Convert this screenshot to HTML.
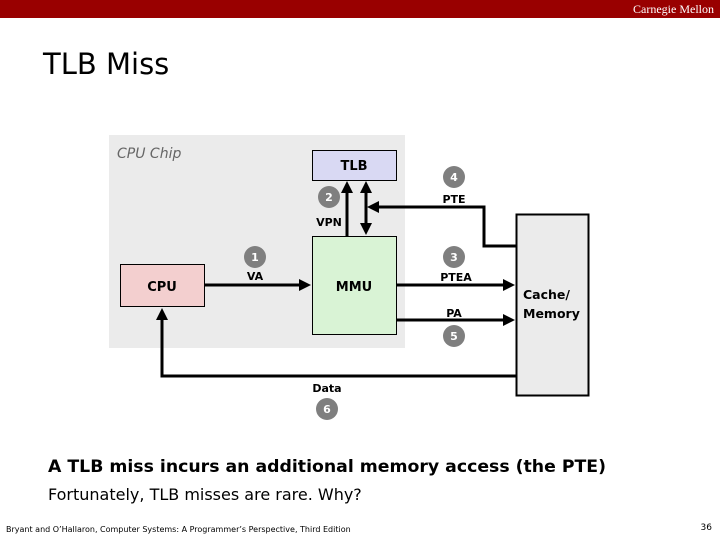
<!DOCTYPE html>
<html><head><style>
body{margin:0;width:720px;height:540px;background:#fff;position:relative;overflow:hidden;font-family:"DejaVu Sans","Liberation Sans",sans-serif}
.a{position:absolute;white-space:nowrap}
</style></head><body>
<div class="a" style="left:0;top:0;width:720px;height:18px;background:#990000"></div>
<div class="a" style="right:6px;top:2px;color:#fff;font:12px 'Liberation Serif',serif">Carnegie Mellon</div>
<div class="a" style="left:43px;top:47px;font-size:29px;color:#000">TLB Miss</div>
<svg class="a" style="left:0;top:0" width="720" height="540">
<defs><marker id="m" markerWidth="4" markerHeight="4" refX="3" refY="2" orient="auto" markerUnits="strokeWidth"><path d="M0,0L4,2L0,4z" fill="#000"/></marker></defs>
<rect x="109" y="135" width="296" height="213" fill="#ebebeb"/>
<text x="117" y="158" font-size="14" font-style="italic" fill="#666" font-family="DejaVu Sans">CPU Chip</text>
<rect x="312.5" y="150.5" width="84" height="30" fill="#d9d9f3" stroke="#000"/>
<text x="354" y="170" text-anchor="middle" font-size="13" font-weight="bold">TLB</text>
<rect x="312.5" y="236.5" width="84" height="98" fill="#d9f3d5" stroke="#000"/>
<text x="354" y="291" text-anchor="middle" font-size="13" font-weight="bold">MMU</text>
<rect x="120.5" y="264.5" width="84" height="42" fill="#f3cfcf" stroke="#000"/>
<text x="162" y="291" text-anchor="middle" font-size="13" font-weight="bold">CPU</text>
<rect x="516.5" y="214.5" width="72" height="181" fill="#ebebeb" stroke="#000" stroke-width="2"/>
<text x="523" y="299" font-size="12.5" font-weight="bold">Cache/</text>
<text x="523" y="318" font-size="12.5" font-weight="bold">Memory</text>
<g stroke="#000" stroke-width="3" fill="none">
<line x1="205" y1="285" x2="308" y2="285" marker-end="url(#m)"/>
<line x1="397" y1="285" x2="512" y2="285" marker-end="url(#m)"/>
<polyline points="397,320 512,320" marker-end="url(#m)"/>
<polyline points="516,376 162,376 162,311" marker-end="url(#m)"/>
<line x1="347" y1="236" x2="347" y2="184" marker-end="url(#m)"/>
<line x1="366" y1="196" x2="366" y2="184" marker-end="url(#m)"/>
<line x1="366" y1="190" x2="366" y2="232" marker-end="url(#m)"/>
<polyline points="516,246 484,246 484,207 370,207" marker-end="url(#m)"/>
</g>
<g fill="#7f7f7f">
<circle cx="255" cy="257" r="11"/><circle cx="329" cy="197" r="11"/><circle cx="454" cy="257" r="11"/>
<circle cx="454" cy="177" r="11"/><circle cx="454" cy="336" r="11"/><circle cx="327" cy="409" r="11"/>
</g>
<g fill="#fff" font-size="11" text-anchor="middle" font-weight="bold">
<text x="255" y="261">1</text><text x="329" y="201">2</text><text x="454" y="261">3</text>
<text x="454" y="181">4</text><text x="454" y="340">5</text><text x="327" y="413">6</text>
</g>
<g font-size="11" text-anchor="middle" font-weight="bold">
<text x="255" y="280">VA</text><text x="329" y="226">VPN</text><text x="454" y="203">PTE</text>
<text x="456" y="281">PTEA</text><text x="454" y="317">PA</text><text x="327" y="392">Data</text>
</g>
</svg>
<div class="a" style="left:48px;top:457px;font-size:17.3px;font-weight:bold">A TLB miss incurs an additional memory access (the PTE)</div>
<div class="a" style="left:48px;top:485px;font-size:16px">Fortunately, TLB misses are rare. Why?</div>
<div class="a" style="left:6px;top:525px;font-size:8px">Bryant and O’Hallaron, Computer Systems: A Programmer’s Perspective, Third Edition</div>
<div class="a" style="right:8px;top:523px;font-size:9px">36</div>
</body></html>
